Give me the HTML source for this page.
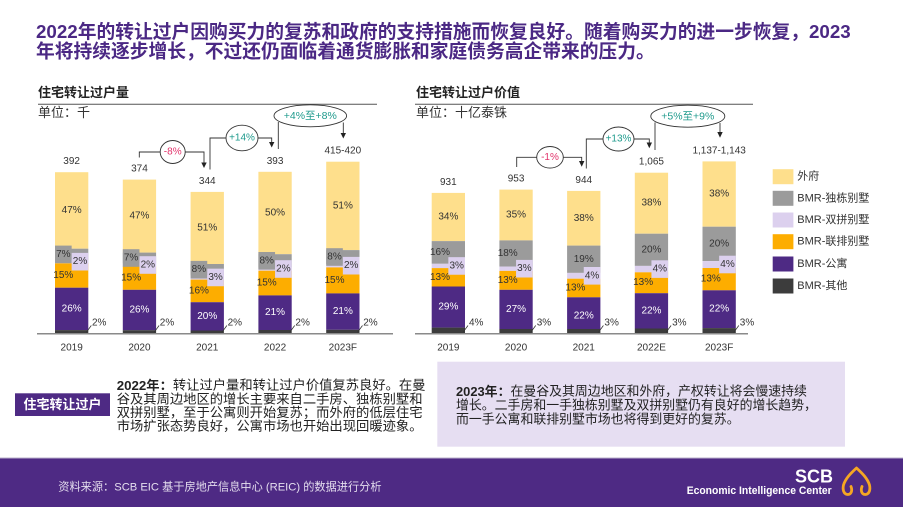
<!DOCTYPE html>
<html>
<head>
<meta charset="utf-8">
<style>
html,body{margin:0;padding:0;background:#fff;}
body{width:903px;height:507px;overflow:hidden;}
svg{display:block;}
.t{font-family:"Liberation Sans","Noto Sans CJK SC",sans-serif;}
</style>
</head>
<body>
<svg width="903" height="507" viewBox="0 0 903 507" xmlns="http://www.w3.org/2000/svg" class="t">
<rect x="0" y="0" width="903" height="507" fill="#fff"/>

<!-- Title -->
<g font-family="'Liberation Sans','Noto Sans CJK SC',sans-serif" font-weight="bold" font-size="18.75" fill="#4B2884" dominant-baseline="central">
<text x="36" y="31.5">2022年的转让过户因购买力的复苏和政府的支持措施而恢复良好。随着购买力的进一步恢复，2023</text>
<text x="36" y="51">年将持续逐步增长，不过还仍面临着通货膨胀和家庭债务高企带来的压力。</text>
</g>

<!-- Chart headers -->
<g font-family="'Liberation Sans','Noto Sans CJK SC',sans-serif" font-size="13" fill="#222" dominant-baseline="central">
<text x="38" y="92.5" font-weight="bold">住宅转让过户量</text>
<text x="38" y="112.5" fill="#333">单位：千</text>
<text x="416" y="92.5" font-weight="bold">住宅转让过户价值</text>
<text x="416" y="112.5" fill="#333">单位：十亿泰铢</text>
</g>
<line x1="38" y1="104.3" x2="377" y2="104.3" stroke="#555" stroke-width="1"/>
<line x1="415" y1="104.3" x2="753" y2="104.3" stroke="#555" stroke-width="1"/>

<!-- LEFT CHART BARS -->
<g>
<rect x="55" y="172.2" width="33.3" height="76.5" fill="#FEDF8C"/>
<rect x="55" y="248.7" width="33.3" height="11.4" fill="#9B9B9B"/>
<rect x="55" y="260.1" width="33.3" height="3.2" fill="#DCD0EE"/>
<rect x="55" y="263.3" width="33.3" height="24.4" fill="#FDAD00"/>
<rect x="55" y="287.7" width="33.3" height="42.4" fill="#4E2A84"/>
<rect x="55" y="330.1" width="33.3" height="3.2" fill="#3C3C3C"/>
<rect x="55" y="245.6" width="16.65" height="17.6" fill="#9B9B9B"/>
<rect x="71.65" y="252.9" width="16.65" height="17.6" fill="#DCD0EE"/>

<rect x="122.8" y="179.6" width="33.3" height="73.0" fill="#FEDF8C"/>
<rect x="122.8" y="252.6" width="33.3" height="10.8" fill="#9B9B9B"/>
<rect x="122.8" y="263.4" width="33.3" height="3.1" fill="#DCD0EE"/>
<rect x="122.8" y="266.5" width="33.3" height="23.3" fill="#FDAD00"/>
<rect x="122.8" y="289.8" width="33.3" height="40.4" fill="#4E2A84"/>
<rect x="122.8" y="330.2" width="33.3" height="3.1" fill="#3C3C3C"/>
<rect x="122.8" y="249.2" width="16.65" height="17.6" fill="#9B9B9B"/>
<rect x="139.45" y="256.2" width="16.65" height="17.6" fill="#DCD0EE"/>

<rect x="190.6" y="191.9" width="33.3" height="72.1" fill="#FEDF8C"/>
<rect x="190.6" y="264.0" width="33.3" height="11.3" fill="#9B9B9B"/>
<rect x="190.6" y="275.3" width="33.3" height="4.3" fill="#DCD0EE"/>
<rect x="190.6" y="279.6" width="33.3" height="22.6" fill="#FDAD00"/>
<rect x="190.6" y="302.2" width="33.3" height="28.3" fill="#4E2A84"/>
<rect x="190.6" y="330.5" width="33.3" height="2.8" fill="#3C3C3C"/>
<rect x="190.6" y="260.9" width="16.65" height="17.6" fill="#9B9B9B"/>
<rect x="207.25" y="268.65" width="16.65" height="17.6" fill="#DCD0EE"/>

<rect x="258.4" y="171.8" width="33.3" height="82.4" fill="#FEDF8C"/>
<rect x="258.4" y="254.2" width="33.3" height="13.2" fill="#9B9B9B"/>
<rect x="258.4" y="267.4" width="33.3" height="3.3" fill="#DCD0EE"/>
<rect x="258.4" y="270.7" width="33.3" height="24.7" fill="#FDAD00"/>
<rect x="258.4" y="295.4" width="33.3" height="34.6" fill="#4E2A84"/>
<rect x="258.4" y="330.0" width="33.3" height="3.3" fill="#3C3C3C"/>
<rect x="258.4" y="252.0" width="16.65" height="17.6" fill="#9B9B9B"/>
<rect x="275.05" y="260.2" width="16.65" height="17.6" fill="#DCD0EE"/>

<rect x="326.2" y="161.7" width="33.3" height="88.4" fill="#FEDF8C"/>
<rect x="326.2" y="250.1" width="33.3" height="13.9" fill="#9B9B9B"/>
<rect x="326.2" y="264.0" width="33.3" height="3.4" fill="#DCD0EE"/>
<rect x="326.2" y="267.4" width="33.3" height="26.0" fill="#FDAD00"/>
<rect x="326.2" y="293.4" width="33.3" height="36.4" fill="#4E2A84"/>
<rect x="326.2" y="329.8" width="33.3" height="3.5" fill="#3C3C3C"/>
<rect x="326.2" y="248.2" width="16.65" height="17.6" fill="#9B9B9B"/>
<rect x="342.85" y="256.9" width="16.65" height="17.6" fill="#DCD0EE"/>
</g>
<line x1="37" y1="333.8" x2="393" y2="333.8" stroke="#8a8a8a" stroke-width="1.5"/>

<g stroke="#333" stroke-width="0.8">
<line x1="86.3" y1="332.3" x2="91.3" y2="325.5"/>
<line x1="154.1" y1="332.3" x2="159.1" y2="325.5"/>
<line x1="221.9" y1="332.3" x2="226.9" y2="325.5"/>
<line x1="289.7" y1="332.3" x2="294.7" y2="325.5"/>
<line x1="357.5" y1="332.3" x2="362.5" y2="325.5"/>
</g>

<g font-family="'Liberation Sans',sans-serif" font-size="10" fill="#333" text-anchor="middle" dominant-baseline="central">
<text x="71.65" y="210.5">47%</text><text x="63.3" y="254.4">7%</text><text x="80" y="261.7">2%</text><text x="63.3" y="275.5">15%</text><text x="71.65" y="308.9" fill="#fff">26%</text>
<text x="139.45" y="216.1">47%</text><text x="131.1" y="258.0">7%</text><text x="147.8" y="265.0">2%</text><text x="131.1" y="278.2">15%</text><text x="139.45" y="310.0" fill="#fff">26%</text>
<text x="207.25" y="228.0">51%</text><text x="198.9" y="269.7">8%</text><text x="215.6" y="277.5">3%</text><text x="198.9" y="290.9">16%</text><text x="207.25" y="316.3" fill="#fff">20%</text>
<text x="275.05" y="213.0">50%</text><text x="266.7" y="260.8">8%</text><text x="283.4" y="269.0">2%</text><text x="266.7" y="283.0">15%</text><text x="275.05" y="312.7" fill="#fff">21%</text>
<text x="342.85" y="205.9">51%</text><text x="334.5" y="257.0">8%</text><text x="351.2" y="265.7">2%</text><text x="334.5" y="280.4">15%</text><text x="342.85" y="311.6" fill="#fff">21%</text>
<text x="71.65" y="161.7">392</text>
<text x="139.45" y="169.1">374</text>
<text x="207.25" y="181.4">344</text>
<text x="275.05" y="161.3">393</text>
<text x="342.85" y="151.2">415-420</text>
<text x="71.65" y="348">2019</text>
<text x="139.45" y="348">2020</text>
<text x="207.25" y="348">2021</text>
<text x="275.05" y="348">2022</text>
<text x="342.85" y="348">2023F</text>
</g>
<g font-family="'Liberation Sans',sans-serif" font-size="10" fill="#333" dominant-baseline="central">
<text x="92" y="323">2%</text>
<text x="159.8" y="323">2%</text>
<text x="227.6" y="323">2%</text>
<text x="295.4" y="323">2%</text>
<text x="363.2" y="323">2%</text>
</g>

<g stroke="#333" stroke-width="0.9" fill="none">
<polyline points="139.3,157.5 139.3,152 160,152"/>
<polyline points="185.2,152 204,152 204,163"/>
<polyline points="210,169.5 210,138 226,138"/>
<polyline points="258,138 271.7,138 271.7,142.5"/>
<line x1="278.3" y1="149" x2="278.3" y2="122"/>
<line x1="343.3" y1="122.5" x2="343.3" y2="133.5"/>
</g>
<g fill="#222">
<polygon points="201.3,162.5 206.7,162.5 204,168"/>
<polygon points="269,142 274.4,142 271.7,147.5"/>
<polygon points="340.6,133 346,133 343.3,138.5"/>
</g>
<g stroke="#333" stroke-width="0.9" fill="#fff">
<ellipse cx="172.7" cy="152" rx="12.5" ry="11.5"/>
<ellipse cx="242" cy="138" rx="16" ry="12.8"/>
<ellipse cx="310.3" cy="115.8" rx="36.3" ry="11"/>
</g>
<g font-family="'Liberation Sans','Noto Sans CJK SC',sans-serif" font-size="10" text-anchor="middle" dominant-baseline="central">
<text x="172.7" y="152" fill="#E2336B">-8%</text>
<text x="242" y="138" fill="#1E9A8C">+14%</text>
<text x="310.3" y="116" fill="#1E9A8C" font-size="10.5">+4%至+8%</text>
</g>

<!-- RIGHT CHART BARS -->
<g>
<rect x="431.7" y="192.9" width="33.3" height="48.2" fill="#FEDF8C"/>
<rect x="431.7" y="241.1" width="33.3" height="22.7" fill="#9B9B9B"/>
<rect x="431.7" y="263.8" width="33.3" height="4.3" fill="#DCD0EE"/>
<rect x="431.7" y="268.1" width="33.3" height="18.4" fill="#FDAD00"/>
<rect x="431.7" y="286.5" width="33.3" height="41.1" fill="#4E2A84"/>
<rect x="431.7" y="327.6" width="33.3" height="5.7" fill="#3C3C3C"/>
<rect x="448.35" y="257.15" width="16.65" height="17.6" fill="#DCD0EE"/>

<rect x="499.4" y="189.6" width="33.3" height="50.8" fill="#FEDF8C"/>
<rect x="499.4" y="240.4" width="33.3" height="26.1" fill="#9B9B9B"/>
<rect x="499.4" y="266.5" width="33.3" height="4.4" fill="#DCD0EE"/>
<rect x="499.4" y="270.9" width="33.3" height="18.9" fill="#FDAD00"/>
<rect x="499.4" y="289.8" width="33.3" height="39.2" fill="#4E2A84"/>
<rect x="499.4" y="329.0" width="33.3" height="4.3" fill="#3C3C3C"/>
<rect x="516.05" y="259.9" width="16.65" height="17.6" fill="#DCD0EE"/>

<rect x="567.1" y="190.9" width="33.3" height="54.7" fill="#FEDF8C"/>
<rect x="567.1" y="245.6" width="33.3" height="27.3" fill="#9B9B9B"/>
<rect x="567.1" y="272.9" width="33.3" height="5.8" fill="#DCD0EE"/>
<rect x="567.1" y="278.7" width="33.3" height="18.6" fill="#FDAD00"/>
<rect x="567.1" y="297.3" width="33.3" height="31.7" fill="#4E2A84"/>
<rect x="567.1" y="329.0" width="33.3" height="4.3" fill="#3C3C3C"/>
<rect x="583.75" y="267.0" width="16.65" height="17.6" fill="#DCD0EE"/>

<rect x="634.8" y="172.7" width="33.3" height="61.0" fill="#FEDF8C"/>
<rect x="634.8" y="233.7" width="33.3" height="32.2" fill="#9B9B9B"/>
<rect x="634.8" y="265.9" width="33.3" height="6.4" fill="#DCD0EE"/>
<rect x="634.8" y="272.3" width="33.3" height="20.9" fill="#FDAD00"/>
<rect x="634.8" y="293.2" width="33.3" height="35.3" fill="#4E2A84"/>
<rect x="634.8" y="328.5" width="33.3" height="4.8" fill="#3C3C3C"/>
<rect x="651.45" y="260.3" width="16.65" height="17.6" fill="#DCD0EE"/>

<rect x="702.5" y="161.4" width="33.3" height="65.3" fill="#FEDF8C"/>
<rect x="702.5" y="226.7" width="33.3" height="34.4" fill="#9B9B9B"/>
<rect x="702.5" y="261.1" width="33.3" height="6.9" fill="#DCD0EE"/>
<rect x="702.5" y="268.0" width="33.3" height="22.3" fill="#FDAD00"/>
<rect x="702.5" y="290.3" width="33.3" height="37.8" fill="#4E2A84"/>
<rect x="702.5" y="328.1" width="33.3" height="5.2" fill="#3C3C3C"/>
<rect x="719.15" y="255.7" width="16.65" height="17.6" fill="#DCD0EE"/>
</g>
<line x1="415" y1="333.8" x2="748" y2="333.8" stroke="#8a8a8a" stroke-width="1.5"/>

<g stroke="#333" stroke-width="0.8">
<line x1="463" y1="332.3" x2="468" y2="325.5"/>
<line x1="530.7" y1="332.3" x2="535.7" y2="325.5"/>
<line x1="598.4" y1="332.3" x2="603.4" y2="325.5"/>
<line x1="666.1" y1="332.3" x2="671.1" y2="325.5"/>
<line x1="733.8" y1="332.3" x2="738.8" y2="325.5"/>
</g>

<g font-family="'Liberation Sans',sans-serif" font-size="10" fill="#333" text-anchor="middle" dominant-baseline="central">
<text x="448.35" y="217.0">34%</text><text x="440" y="252.5">16%</text><text x="456.7" y="266.0">3%</text><text x="440" y="277.3">13%</text><text x="448.35" y="307.1" fill="#fff">29%</text>
<text x="516.05" y="215.0">35%</text><text x="507.7" y="253.5">18%</text><text x="524.4" y="268.7">3%</text><text x="507.7" y="280.3">13%</text><text x="516.05" y="309.4" fill="#fff">27%</text>
<text x="583.75" y="218.3">38%</text><text x="583.75" y="259.3">19%</text><text x="592.1" y="275.8">4%</text><text x="575.4" y="288.0">13%</text><text x="583.75" y="316.2" fill="#fff">22%</text>
<text x="651.45" y="203.2">38%</text><text x="651.45" y="249.8">20%</text><text x="659.8" y="269.1">4%</text><text x="643.1" y="282.7">13%</text><text x="651.45" y="310.8" fill="#fff">22%</text>
<text x="719.15" y="194.1">38%</text><text x="719.15" y="243.9">20%</text><text x="727.5" y="264.5">4%</text><text x="710.8" y="279.2">13%</text><text x="719.15" y="309.2" fill="#fff">22%</text>
<text x="448.35" y="182.4">931</text>
<text x="516.05" y="179.1">953</text>
<text x="583.75" y="180.4">944</text>
<text x="651.45" y="162.2">1,065</text>
<text x="719.15" y="150.9">1,137-1,143</text>
<text x="448.35" y="348">2019</text>
<text x="516.05" y="348">2020</text>
<text x="583.75" y="348">2021</text>
<text x="651.45" y="348">2022E</text>
<text x="719.15" y="348">2023F</text>
</g>
<g font-family="'Liberation Sans',sans-serif" font-size="10" fill="#333" dominant-baseline="central">
<text x="469" y="323">4%</text>
<text x="536.7" y="323">3%</text>
<text x="604.4" y="323">3%</text>
<text x="672.1" y="323">3%</text>
<text x="739.8" y="323">3%</text>
</g>

<g stroke="#333" stroke-width="0.9" fill="none">
<polyline points="516.7,167 516.7,157.3 536.7,157.3"/>
<polyline points="563.3,157.3 581.7,157.3 581.7,161.5"/>
<polyline points="586.3,168.5 586.3,139 603,139"/>
<polyline points="634,139 649.3,139 649.3,143"/>
<line x1="655" y1="150" x2="655" y2="122.5"/>
<line x1="720" y1="123" x2="720" y2="132.5"/>
</g>
<g fill="#222">
<polygon points="579,161 584.4,161 581.7,166.7"/>
<polygon points="646.6,142.5 652,142.5 649.3,148.3"/>
<polygon points="717.3,132 722.7,132 720,137.7"/>
</g>
<g stroke="#333" stroke-width="0.9" fill="#fff">
<ellipse cx="550" cy="157.3" rx="13.3" ry="10.8"/>
<ellipse cx="618.5" cy="139" rx="15.5" ry="12"/>
<ellipse cx="687.8" cy="116.2" rx="37" ry="11"/>
</g>
<g font-family="'Liberation Sans','Noto Sans CJK SC',sans-serif" font-size="10" text-anchor="middle" dominant-baseline="central">
<text x="550" y="157.3" fill="#E2336B">-1%</text>
<text x="618.5" y="139" fill="#1E9A8C">+13%</text>
<text x="687.8" y="116.4" fill="#1E9A8C" font-size="10.5">+5%至+9%</text>
</g>

<!-- Legend -->
<g>
<rect x="772.7" y="169.2" width="20.7" height="15" fill="#FEDF8C"/>
<rect x="772.7" y="190.8" width="20.7" height="15" fill="#9B9B9B"/>
<rect x="772.7" y="212.5" width="20.7" height="15" fill="#DCD0EE"/>
<rect x="772.7" y="234.2" width="20.7" height="15" fill="#FDAD00"/>
<rect x="772.7" y="256.5" width="20.7" height="15" fill="#4E2A84"/>
<rect x="772.7" y="278.5" width="20.7" height="15" fill="#3C3C3C"/>
</g>
<g font-family="'Liberation Sans','Noto Sans CJK SC',sans-serif" font-size="11" fill="#333" dominant-baseline="central">
<text x="797.3" y="176.7">外府</text>
<text x="797.3" y="198.3">BMR-独栋别墅</text>
<text x="797.3" y="220">BMR-双拼别墅</text>
<text x="797.3" y="241.7">BMR-联排别墅</text>
<text x="797.3" y="264">BMR-公寓</text>
<text x="797.3" y="286">BMR-其他</text>
</g>

<!-- Bottom left -->
<rect x="15" y="393.3" width="95" height="22.7" fill="#4E2A84"/>
<text x="62.5" y="404.7" font-family="'Liberation Sans','Noto Sans CJK SC',sans-serif" font-size="13" font-weight="bold" fill="#fff" text-anchor="middle" dominant-baseline="central">住宅转让过户</text>

<g font-family="'Liberation Sans','Noto Sans CJK SC',sans-serif" font-size="13.3" fill="#222" dominant-baseline="central">
<text x="116.7" y="385.2"><tspan font-weight="bold">2022年：</tspan>转让过户量和转让过户价值复苏良好。在曼</text>
<text x="116.7" y="398.8">谷及其周边地区的增长主要来自二手房、独栋别墅和</text>
<text x="116.7" y="412.4">双拼别墅，至于公寓则开始复苏；而外府的低层住宅</text>
<text x="116.7" y="426">市场扩张态势良好，公寓市场也开始出现回暖迹象。</text>
</g>

<!-- Bottom right -->
<rect x="437.3" y="361.7" width="407.7" height="85" fill="#E6DEF2"/>
<g font-family="'Liberation Sans','Noto Sans CJK SC',sans-serif" font-size="12.9" fill="#222" dominant-baseline="central">
<text x="456" y="391"><tspan font-weight="bold">2023年：</tspan>在曼谷及其周边地区和外府，产权转让将会慢速持续</text>
<text x="456" y="405">增长。二手房和一手独栋别墅及双拼别墅仍有良好的增长趋势，</text>
<text x="456" y="419">而一手公寓和联排别墅市场也将得到更好的复苏。</text>
</g>

<!-- Footer -->
<rect x="0" y="457.5" width="903" height="1.2" fill="#b9b0cb"/>
<rect x="0" y="458.5" width="903" height="48.5" fill="#4E2A84"/>
<text x="58.3" y="487.7" font-family="'Liberation Sans','Noto Sans CJK SC',sans-serif" font-size="11.2" fill="#E4DDEE" dominant-baseline="central">资料来源：SCB EIC 基于房地产信息中心 (REIC) 的数据进行分析</text>
<text x="833" y="476.5" font-family="'Liberation Sans',sans-serif" font-size="18" font-weight="bold" fill="#fff" text-anchor="end" dominant-baseline="central">SCB</text>
<text x="686.7" y="491" font-family="'Liberation Sans',sans-serif" font-size="11" font-weight="bold" fill="#fff" dominant-baseline="central" textLength="145" lengthAdjust="spacingAndGlyphs">Economic Intelligence Center</text>
<path d="M851,486.5 C852.5,490.5 851.5,494.5 847.5,494.5 C843.5,494 842.5,489.5 843.5,485 C845.5,478.5 850.5,473.5 856.5,468 C862.5,473.5 867.5,478.5 869.5,485 C870.5,489.5 869.5,494 865.5,494.5 C861.5,494.5 860.5,490.5 862,486.5" fill="none" stroke="#F5A623" stroke-width="2.8" stroke-linecap="round" stroke-linejoin="round"/>
</svg>
</body>
</html>
